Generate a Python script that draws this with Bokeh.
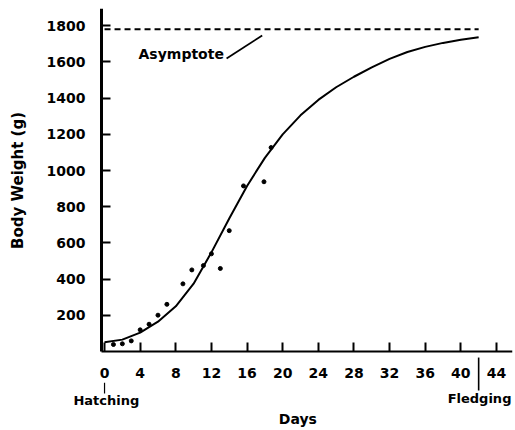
import math
from bokeh.plotting import figure
from bokeh.models import Label, Arrow, FixedTicker, Range1d
from bokeh.embed import file_html
from bokeh.resources import INLINE

# Observed body weights (days since hatching, grams)
obs_days = [1.0, 2.0, 3.0, 4.0, 5.0, 6.0, 7.0, 8.8, 9.8, 11.1, 12.0, 13.0, 14.0, 15.6, 17.9, 18.7]
obs_weight = [39, 43, 59, 120, 151, 201, 261, 374, 451, 475, 540, 459, 668, 915, 938, 1127]

# Fitted growth curve
curve_days = [0, 2, 4, 6, 8, 10, 12, 14, 16, 18, 20, 22, 24, 26, 28, 30, 32, 34, 36, 38, 40, 42]
curve_weight = [51, 66, 105, 165, 250, 375, 548, 735, 915, 1070, 1200, 1305, 1390, 1460, 1518, 1570,
                1617, 1655, 1683, 1705, 1722, 1736]

asymptote = 1780
asym_days = [0, 42]
hatching_day = 0
fledging_day = 42

x_ticks = [0, 4, 8, 12, 16, 20, 24, 28, 32, 36, 40, 44]
y_ticks = [200, 400, 600, 800, 1000, 1200, 1400, 1600, 1800]

FONT = "DejaVu Sans"
Y_TOP = 1895
X_AXIS_POS = -0.34

p = figure(width=515, height=430, x_range=Range1d(-11.68, 45.8), y_range=Range1d(-436, Y_TOP),
           output_backend="svg", toolbar_location=None,
           min_border_left=0, min_border_right=3, min_border_top=8, min_border_bottom=0)
p.outline_line_color = None
p.xgrid.visible = False
p.ygrid.visible = False
p.background_fill_color = "white"
p.border_fill_color = "white"

for ax in (p.xaxis[0], p.yaxis[0]):
    ax.major_tick_in = 9
    ax.major_tick_out = 0
    ax.minor_tick_line_color = None
    ax.major_tick_line_width = 2
    ax.major_tick_line_color = "black"
    ax.axis_line_color = "black"
    ax.major_label_text_font = FONT
    ax.major_label_text_font_style = "bold"
    ax.major_label_text_font_size = "14px"
    ax.major_label_text_color = "black"
    ax.major_label_standoff = 16

p.xaxis[0].fixed_location = 0
p.xaxis[0].bounds = (X_AXIS_POS, 45.8)
p.xaxis[0].axis_line_width = 2
p.yaxis[0].fixed_location = X_AXIS_POS
p.yaxis[0].axis_line_width = 3
p.yaxis[0].bounds = (0, Y_TOP)
p.xaxis[0].ticker = FixedTicker(ticks=x_ticks)
p.yaxis[0].ticker = FixedTicker(ticks=y_ticks)

lbl = dict(text_baseline="middle", text_align="center", text_font=FONT, text_font_style="bold",
           text_color="black")

# y axis title
p.add_layout(Label(x=-9.77, y=945, text="Body Weight (g)", angle=math.pi / 2,
                   text_font_size="15px", **lbl))

# asymptote
p.line(asym_days, [asymptote, asymptote], line_color="black", line_width=2, line_dash="6 4")
# fitted curve
p.line(curve_days, curve_weight, line_color="black", line_width=2)
# observations
p.scatter(obs_days, obs_weight, size=4, color="black")

# Hatching / Fledging marks below the day axis
p.segment(x0=[hatching_day, fledging_day], y0=[-172, -33], x1=[hatching_day, fledging_day], y1=[-232, -215],
          line_color="black", line_width=[1.2, 1.6])
p.add_layout(Label(x=hatching_day + 0.2, y=-273, text="Hatching", text_font_size="13px", **lbl))
p.add_layout(Label(x=fledging_day + 0.1, y=-260, text="Fledging", text_font_size="13px", **lbl))
p.add_layout(Label(x=21.7, y=-370, text="Days", text_font_size="14px", **lbl))

# Asymptote annotation
p.add_layout(Label(x=13.4, y=1646, text="Asymptote", text_align="right", text_baseline="middle",
                   text_font=FONT, text_font_style="bold", text_font_size="14px", text_color="black"))
p.add_layout(Arrow(end=None, x_start=13.7, y_start=1619, x_end=17.7, y_end=1746,
                   line_color="black", line_width=1.8))

open("out.html", "w").write(file_html(p, INLINE))
